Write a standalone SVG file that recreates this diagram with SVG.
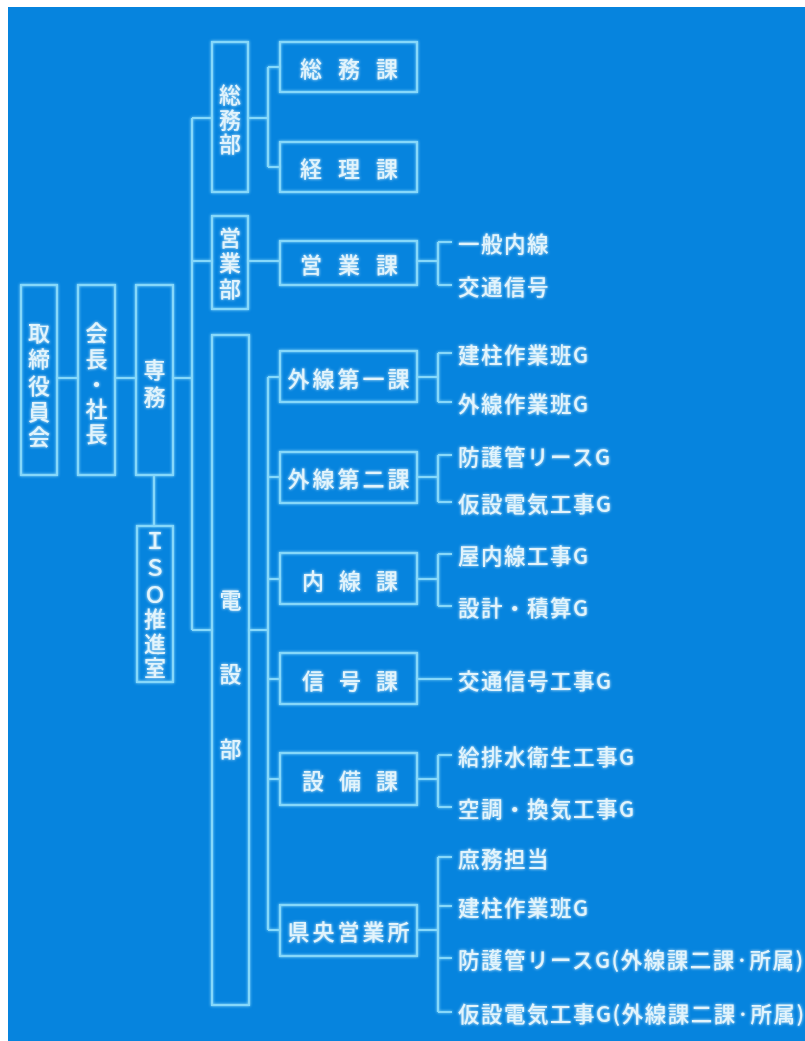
<svg xmlns="http://www.w3.org/2000/svg" width="805" height="1041" viewBox="0 0 805 1041">
<defs>
<filter id="glow" x="-20%" y="-20%" width="140%" height="140%">
<feGaussianBlur in="SourceGraphic" stdDeviation="1.4" result="b"/>
<feMerge><feMergeNode in="b"/><feMergeNode in="SourceGraphic"/></feMerge>
</filter>
</defs>
<style>
.bg{fill:#0684de}
.box{fill:none;stroke:#86d8fa;stroke-width:2.2}
.ln{fill:none;stroke:#86d8fa;stroke-width:2.2}
text{font-family:"Noto Sans CJK JP","Noto Sans",sans-serif;fill:#e2f4fc;dominant-baseline:central;font-weight:500}
.v{font-size:22px;text-anchor:middle}
.b{font-size:22px;text-anchor:middle}
.bl{font-size:22px;letter-spacing:3px;text-anchor:middle}
.g{font-size:21.5px;letter-spacing:1.5px}
</style>
<rect class="bg" x="8" y="7" width="797" height="1034"/>
<g id="connectors" filter="url(#glow)">
<path class="ln" d="M57,378H78M115,378H136M173,378H192M154,476V526"/>
<path class="ln" d="M192,118V630M192,118H212M192,261H212M192,630H212"/>
<path class="ln" d="M248,118H268M268,67V167M268,67H280M268,167H280"/>
<path class="ln" d="M248,261H280M417,261H438M438,242V285M438,242H452M438,285H452"/>
<path class="ln" d="M249,630H268M268,377V930M268,377H280M268,477H280M268,579H280M268,679H280M268,779H280M268,930H280"/>
<path class="ln" d="M417,377H438M438,353V402M438,353H452M438,402H452"/>
<path class="ln" d="M417,477H438M438,455V502M438,455H452M438,502H452"/>
<path class="ln" d="M417,579H438M438,554V606M438,554H452M438,606H452"/>
<path class="ln" d="M417,679H452"/>
<path class="ln" d="M417,779H438M438,755V807M438,755H452M438,807H452"/>
<path class="ln" d="M417,930H438M438,857V1012M438,857H452M438,906H452M438,958H452M438,1012H452"/>
</g>
<g filter="url(#glow)">
<g id="torishimari"><rect class="box" x="21" y="285" width="36" height="190"/><text class="v" x="39 39 39 39 39" y="331 357 384 410 435">取締役員会</text></g>
<g id="kaicho"><rect class="box" x="78" y="285" width="37" height="190"/><text class="v" x="96.5 96.5 96.5 96.5 96.5" y="331 357 382 407 432">会長・社長</text></g>
<g id="senmu"><rect class="box" x="136" y="285" width="37" height="190"/><text class="v" x="154.5 154.5" y="368 395">専務</text></g>
<g id="iso"><rect class="box" x="137" y="526" width="36" height="156"/><text class="v" x="155 155 155 155 155 155" y="539 566 593 617 642 666">ＩＳＯ推進室</text></g>
<g id="somubu"><rect class="box" x="212" y="42" width="36" height="150"/><text class="v" x="230 230 230" y="93 118 142">総務部</text></g>
<g id="eigyobu"><rect class="box" x="212" y="216" width="36" height="93"/><text class="v" x="230 230 230" y="236 261 287">営業部</text></g>
<g id="densetsubu"><rect class="box" x="212" y="335" width="37" height="670"/><text class="v" x="230.5 230.5 230.5" y="598 672 747">電設部</text></g>
<g id="somuka"><rect class="box" x="280" y="42" width="137" height="50"/><text class="b" x="311 349 387" y="67">総務課</text></g>
<g id="keirika"><rect class="box" x="280" y="142" width="137" height="50"/><text class="b" x="311 349 387" y="167">経理課</text></g>
<g id="eigyoka"><rect class="box" x="280" y="241" width="137" height="44"/><text class="b" x="311 349 387" y="263">営業課</text></g>
<g id="gaisen1"><rect class="box" x="280" y="351" width="137" height="51"/><text class="bl" x="350" y="377">外線第一課</text></g>
<g id="gaisen2"><rect class="box" x="280" y="452" width="137" height="51"/><text class="bl" x="350" y="477">外線第二課</text></g>
<g id="naisenka"><rect class="box" x="280" y="553" width="137" height="51"/><text class="b" x="313 350 387" y="579">内線課</text></g>
<g id="shingoka"><rect class="box" x="280" y="653" width="137" height="51"/><text class="b" x="313 350 387" y="679">信号課</text></g>
<g id="setsubika"><rect class="box" x="280" y="753" width="137" height="52"/><text class="b" x="313 350 387" y="779">設備課</text></g>
<g id="kenou"><rect class="box" x="280" y="905" width="137" height="51"/><text class="bl" x="350" y="930">県央営業所</text></g>
<g id="leaves">
<text class="g" x="458" y="242">一般内線</text>
<text class="g" x="458" y="285">交通信号</text>
<text class="g" x="458" y="353">建柱作業班G</text>
<text class="g" x="458" y="402">外線作業班G</text>
<text class="g" x="458" y="455">防護管リースG</text>
<text class="g" x="458" y="502">仮設電気工事G</text>
<text class="g" x="458" y="554">屋内線工事G</text>
<text class="g" x="458" y="606">設計・積算G</text>
<text class="g" x="458" y="679">交通信号工事G</text>
<text class="g" x="458" y="755">給排水衛生工事G</text>
<text class="g" x="458" y="807">空調・換気工事G</text>
<text class="g" x="458" y="857">庶務担当</text>
<text class="g" x="458" y="906">建柱作業班G</text>
<text class="g" x="458" y="958">防護管リースG(外線課二課·所属)</text>
<text class="g" x="458" y="1012">仮設電気工事G(外線課二課·所属)</text>
</g>
</g>
</svg>
